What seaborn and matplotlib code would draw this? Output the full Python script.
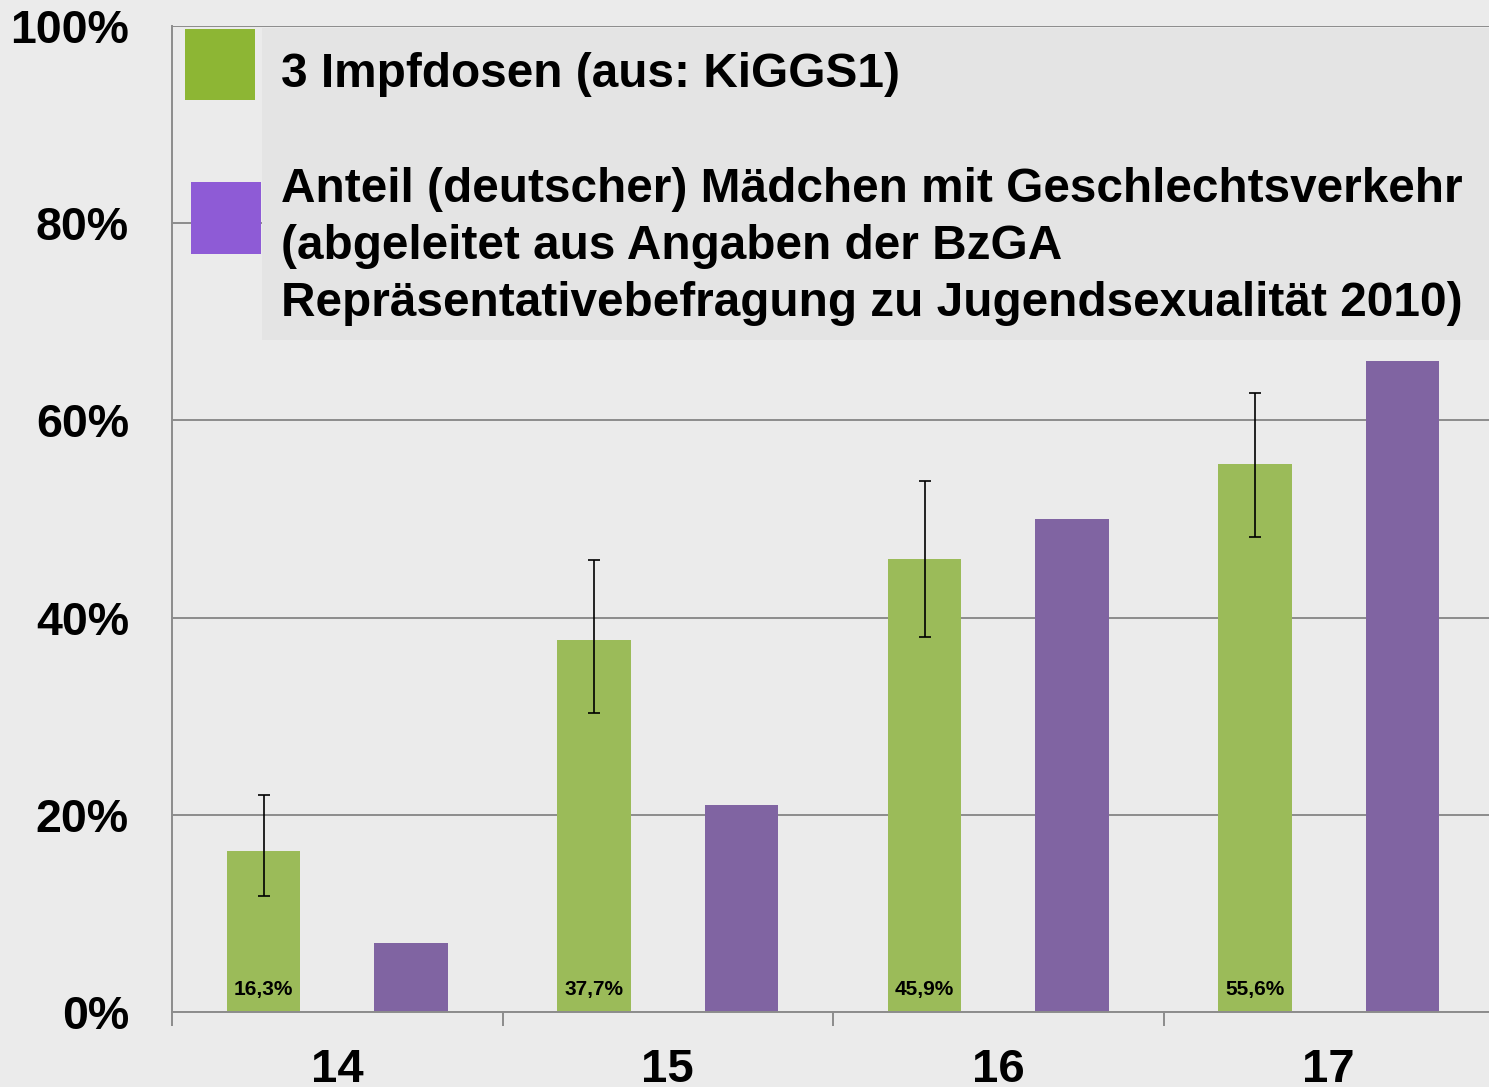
import matplotlib
matplotlib.use("Agg")
import matplotlib.pyplot as plt
from matplotlib.patches import Rectangle
import pandas as pd
import seaborn as sns

ages = ["14", "15", "16", "17"]
impf = [16.3, 37.7, 45.9, 55.6]
impf_lo = [11.8, 30.3, 38.0, 48.2]
impf_hi = [22.0, 45.8, 53.9, 62.8]
verkehr = [7.0, 21.0, 50.0, 66.0]
impf_labels = ["16,3%", "37,7%", "45,9%", "55,6%"]

s1 = "3 Impfdosen (aus: KiGGS1)"
s2_lines = ["Anteil (deutscher) Mädchen mit Geschlechtsverkehr",
            "(abgeleitet aus Angaben der BzGA",
            "Repräsentativebefragung zu Jugendsexualität 2010)"]

bg = "#ebebeb"
sns.set_theme(style="white")
plt.rcParams["font.family"] = ["Liberation Sans", "DejaVu Sans"]
plt.rcParams["font.weight"] = "bold"
plt.rcParams["text.color"] = "black"
plt.rcParams["xtick.color"] = "black"
plt.rcParams["ytick.color"] = "black"

df = pd.DataFrame({
    "Alter": ages * 2,
    "Wert": impf + verkehr,
    "Reihe": ["impf"] * 4 + ["verkehr"] * 4,
})

W, H = 1489, 1087
fig = plt.figure(figsize=(W / 100, H / 100), dpi=100, facecolor=bg)
ax = fig.add_axes([172 / W, 1 - 1012 / H, 1322 / W, 986 / H])
ax.set_facecolor(bg)

sns.barplot(data=df, x="Alter", y="Wert", hue="Reihe", order=ages,
            palette={"impf": "#9bbb59", "verkehr": "#8064a2"},
            saturation=1, width=0.89, gap=0.5, dodge=True, legend=False,
            linewidth=0, edgecolor="none", ax=ax, zorder=2)

# green bars are the first four patches
green = [p for p in ax.patches if p.get_height() > 0][:4]
xs = [p.get_x() + p.get_width() / 2 for p in green]
lo = [v - l for v, l in zip(impf, impf_lo)]
hi = [h - v for v, h in zip(impf, impf_hi)]
ax.errorbar(xs, impf, yerr=[lo, hi], fmt="none", ecolor="black",
            elinewidth=1.2, capsize=4, capthick=1.2, zorder=3)
for x, lab in zip(xs, impf_labels):
    ax.text(x, 2.3, lab, ha="center", va="center", fontsize=15,
            fontweight="bold", color="black", zorder=4)

ax.set_ylim(0, 100)
ax.set_xlim(-0.5, 3.5)
ax.set_yticks([0, 20, 40, 60, 80, 100])
ax.set_yticklabels(["0%", "20%", "40%", "60%", "80%", "100%"],
                   fontsize=33.5, fontweight="bold")
ax.tick_params(axis="y", length=0, pad=31)
ax.yaxis.grid(True, color="#8c8c8c", linewidth=1.4)
ax.set_axisbelow(True)

ax.set_xticks([-0.5, 0.5, 1.5, 2.5])
ax.set_xticklabels([])
ax.set_xticks(range(4), minor=True)
ax.set_xticklabels(ages, minor=True, fontsize=34, fontweight="bold")
ax.tick_params(axis="x", which="major", length=10, width=1.4,
               color="#8c8c8c", bottom=True)
ax.tick_params(axis="x", which="minor", length=0, pad=26, bottom=True)
ax.set_xlabel("")
ax.set_ylabel("")

for side in ["top", "right"]:
    ax.spines[side].set_visible(False)
for side in ["left", "bottom"]:
    ax.spines[side].set_color("#8c8c8c")
    ax.spines[side].set_linewidth(1.4)


def fx(px):
    return px / W


def fy(py):
    return 1 - py / H


# legend box drawn in figure pixels
fig.add_artist(Rectangle((fx(262), fy(340)), fx(1489) - fx(262) + 0.01,
                         fy(28) - fy(340), transform=fig.transFigure,
                         facecolor="#e4e4e4", edgecolor="none", zorder=5))
fig.add_artist(Rectangle((fx(185), fy(100)), fx(255) - fx(185),
                         fy(29) - fy(100), transform=fig.transFigure,
                         facecolor="#8db634", edgecolor="none", zorder=6))
fig.add_artist(Rectangle((fx(191), fy(254)), fx(261) - fx(191),
                         fy(182) - fy(254), transform=fig.transFigure,
                         facecolor="#8e5bd6", edgecolor="none", zorder=6))
fig.text(fx(281), fy(87), s1, fontsize=34.4, fontweight="bold",
         va="baseline", ha="left", zorder=7)
for i, line in enumerate(s2_lines):
    fig.text(fx(281), fy(202 + 57 * i), line, fontsize=34.4,
             fontweight="bold", va="baseline", ha="left", zorder=7)

fig.savefig("out.png", dpi=100, facecolor=bg)
